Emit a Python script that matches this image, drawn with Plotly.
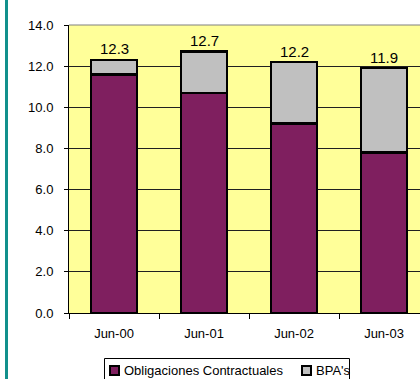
import plotly.graph_objects as go

periods = ['Jun-00', 'Jun-01', 'Jun-02', 'Jun-03']
obligaciones = [11.6, 10.7, 9.2, 7.8]
bpas = [0.7, 2.0, 3.0, 4.1]
totals = [12.3, 12.7, 12.2, 11.9]
series_names = ['Obligaciones Contractuales', "BPA's"]
series_colors = ['#7F1F5F', '#C0C0C0']

FONT = 'Liberation Sans, Arial, sans-serif'

W, H = 420, 379
L, T, B = 69, 25, 66
PW, PH = W - L, H - T - B


def px(x):  # pixel -> paper x
    return (x - L) / PW


def py(y):  # pixel -> paper y
    return (H - B - y) / PH


fig = go.Figure()
for name, vals, col in zip(series_names, [obligaciones, bpas], series_colors):
    fig.add_trace(go.Bar(
        x=periods, y=vals, name=name, width=0.51,
        marker=dict(color=col, line=dict(color='black', width=2.5))))

# total labels above the bars
for p, t in zip(periods, totals):
    fig.add_annotation(x=p, y=t, text=f'{t:.1f}', showarrow=False,
                       yshift=11, font=dict(size=15, color='black', family=FONT))

shapes = [
    # top border of plot area
    dict(type='line', xref='paper', yref='paper', x0=0, x1=1, y0=1, y1=1,
         line=dict(color='#808080', width=1)),
    # teal frame line on the left
    dict(type='line', xref='paper', yref='paper', x0=px(6.5), x1=px(6.5),
         y0=py(420), y1=py(-20), line=dict(color='#12908C', width=3)),
    # legend box
    dict(type='rect', xref='paper', yref='paper', x0=px(104.5), x1=px(349.5),
         y0=py(420), y1=py(358.5), line=dict(color='black', width=1),
         fillcolor='white'),
]

# hand-drawn legend (Excel style: small square swatch right before the text)
legend_x = [109, 301]
for name, col, lx in zip(series_names, series_colors, legend_x):
    shapes.append(dict(type='rect', xref='paper', yref='paper',
                       x0=px(lx + 1), x1=px(lx + 10), y0=py(375), y1=py(366),
                       line=dict(color='black', width=2), fillcolor=col))
    fig.add_annotation(xref='paper', yref='paper', x=px(lx + 13), y=py(370.5),
                       xanchor='left', yanchor='middle', text=name,
                       showarrow=False, font=dict(size=13, color='black', family=FONT))

fig.update_layout(
    width=W, height=H,
    barmode='stack',
    paper_bgcolor='white', plot_bgcolor='#FFFF99',
    margin=dict(l=L, r=0, t=T, b=B),
    font=dict(family=FONT, size=13, color='black'),
    xaxis=dict(type='category', range=[-0.5, 3.4], tickson='boundaries',
               ticks='outside', ticklen=5, tickcolor='black',
               ticklabelstandoff=8,
               showline=True, linecolor='black', linewidth=1,
               showgrid=False, fixedrange=True),
    yaxis=dict(range=[0, 14], dtick=2, tickformat='.1f',
               ticks='outside', ticklen=4, tickcolor='black',
               ticklabelstandoff=8,
               showline=True, linecolor='black', linewidth=1,
               gridcolor='#202020', gridwidth=1, zeroline=False,
               fixedrange=True),
    showlegend=False,
    hovermode=False,
    shapes=shapes,
)

# drop the default body margin so the figure fills the window exactly
fig.write_html('out.html', config={'displayModeBar': False},
               post_script="document.body.style.margin='0';document.body.style.overflow='hidden';")
